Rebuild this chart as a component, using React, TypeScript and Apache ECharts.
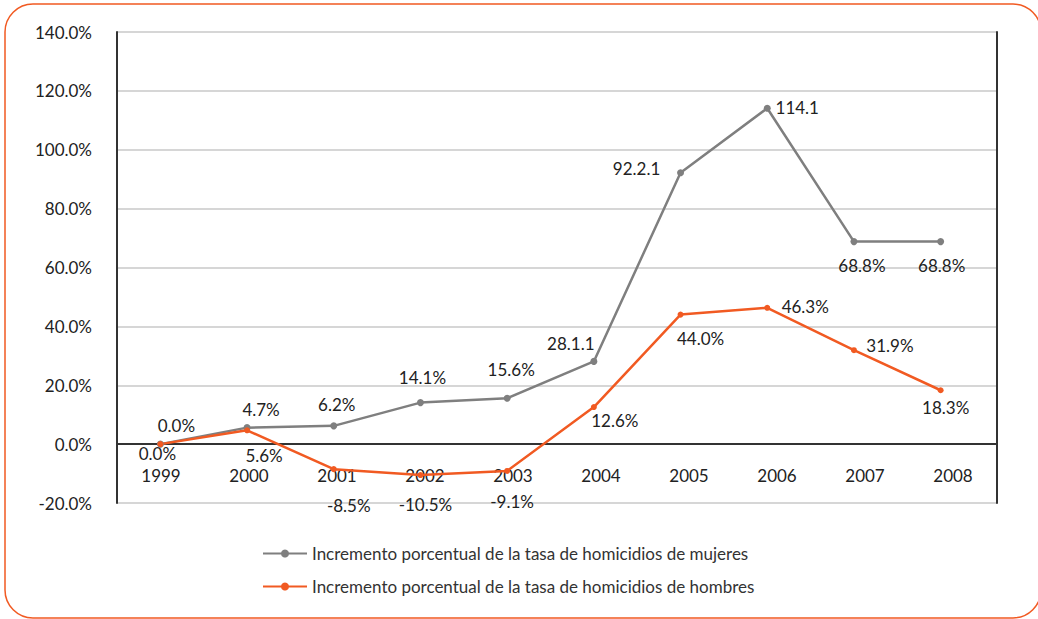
import React, { useEffect, useRef } from "react";
import * as echarts from "echarts";

const years = ["1999", "2000", "2001", "2002", "2003", "2004", "2005", "2006", "2007", "2008"];
const yTicks = [-20, 0, 20, 40, 60, 80, 100, 120, 140];

const womenName = "Incremento porcentual de la tasa de homicidios de mujeres";
const menName = "Incremento porcentual de la tasa de homicidios de hombres";

const womenValues = [0.0, 5.6, 6.2, 14.1, 15.6, 28.1, 92.2, 114.1, 68.8, 68.8];
const womenLabels = ["0.0%", "4.7%", "6.2%", "14.1%", "15.6%", "28.1.1", "92.2.1", "114.1", "68.8%", "68.8%"];
const menValues = [0.0, 4.7, -8.5, -10.5, -9.1, 12.6, 44.0, 46.3, 31.9, 18.3];
const menLabels = ["0.0%", "5.6%", "-8.5%", "-10.5%", "-9.1%", "12.6%", "44.0%", "46.3%", "31.9%", "18.3%"];

// label offsets (layout only)
const womenLabelDx = [16, 14, 3, 2, 4, -23, -44, 30, 8, 1];
const womenLabelDy = [-19, -18, -21, -25, -29, -18, -4, -1, 24, 24];
const menLabelDx = [-3, 17, 15, 5, 5, 21, 20, 38, 36, 5];
const menLabelDy = [9, 25, 36, 29, 31, 13, 24, -1, -5, 17];

const GRAY = "#7f7f7f";
const ORANGE = "#f15a22";
const FONT = "Lato, 'DejaVu Sans', sans-serif";
const FS = 17;

export default function App() {
  const ref = useRef<HTMLDivElement>(null);
  useEffect(() => {
    if (!ref.current) return;
    const chart = echarts.init(ref.current, null, { renderer: "svg" });
    const mkData = (vals: number[], dx: number[], dy: number[]) =>
      vals.map((v, i) => ({ value: v, label: { offset: [dx[i], dy[i]] } }));
    chart.setOption({
      animation: false,
      backgroundColor: "#ffffff",
      textStyle: { fontFamily: FONT },
      graphic: [
        {
          type: "rect",
          z: -10,
          silent: true,
          shape: { x: 5, y: 4, width: 1036, height: 614, r: 28 },
          style: { fill: "none", stroke: ORANGE, lineWidth: 1.5 },
        },
      ],
      grid: [
        { left: 117, right: 41, top: 32, bottom: 116 },
        { left: 117, right: 54, top: 32, bottom: 116 },
      ],
      legend: {
        orient: "vertical",
        left: 257,
        top: 540,
        itemWidth: 44,
        itemHeight: 10,
        itemGap: 16,
        textStyle: { fontSize: FS, color: "#333", fontFamily: FONT },
        data: [womenName, menName],
      },
      xAxis: [
        {
          type: "category",
          gridIndex: 0,
          position: "bottom",
          offset: -59,
          data: years,
          axisTick: { show: false },
          axisLine: { onZero: false, lineStyle: { color: "#333", width: 2 } },
          axisLabel: { fontSize: FS, color: "#222", margin: 23, fontFamily: FONT },
        },
        { type: "category", gridIndex: 1, data: years, show: false },
      ],
      yAxis: [
        {
          type: "value",
          gridIndex: 0,
          min: -20,
          max: 140,
          interval: 20,
          axisLine: { show: true, onZero: false, lineStyle: { color: "#333", width: 2 } },
          axisTick: { show: false },
          splitLine: { show: true, lineStyle: { color: "#c8c8c8", width: 1.5 } },
          axisLabel: {
            fontSize: FS,
            color: "#222",
            margin: 25,
            fontFamily: FONT,
            formatter: (v: number) => (yTicks.includes(v) ? v.toFixed(1) + "%" : ""),
          },
        },
        {
          type: "value",
          gridIndex: 0,
          position: "right",
          min: -20,
          max: 140,
          interval: 20,
          axisLine: { show: true, onZero: false, lineStyle: { color: "#333", width: 2 } },
          axisTick: { show: false },
          axisLabel: { show: false },
          splitLine: { show: false },
        },
        { type: "value", gridIndex: 1, min: -20, max: 140, interval: 20, show: false, splitLine: { show: false } },
      ],
      series: [
        {
          name: womenName,
          type: "line",
          xAxisIndex: 1,
          yAxisIndex: 2,
          data: mkData(womenValues, womenLabelDx, womenLabelDy),
          symbol: "circle",
          symbolSize: 7,
          lineStyle: { color: GRAY, width: 2.5 },
          itemStyle: { color: GRAY },
          label: {
            show: true,
            position: "inside",
            fontSize: FS,
            color: "#222",
            fontFamily: FONT,
            formatter: (p: any) => womenLabels[p.dataIndex],
          },
        },
        {
          name: menName,
          type: "line",
          xAxisIndex: 1,
          yAxisIndex: 2,
          data: mkData(menValues, menLabelDx, menLabelDy),
          symbol: "circle",
          symbolSize: 6,
          lineStyle: { color: ORANGE, width: 2.5 },
          itemStyle: { color: ORANGE },
          label: {
            show: true,
            position: "inside",
            fontSize: FS,
            color: "#222",
            fontFamily: FONT,
            formatter: (p: any) => menLabels[p.dataIndex],
          },
        },
      ],
    });
    return () => chart.dispose();
  }, []);
  return (
    <div
      ref={ref}
      style={{ position: "absolute", left: 0, top: 0, width: 1038, height: 619 }}
    />
  );
}
